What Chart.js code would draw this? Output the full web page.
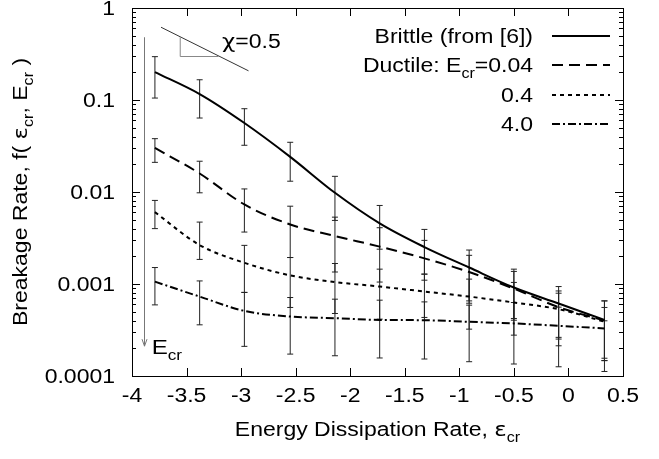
<!DOCTYPE html>
<html>
<head>
<meta charset="utf-8">
<script src="https://cdn.jsdelivr.net/npm/chart.js@4.4.0/dist/chart.umd.min.js"></script>
<style>
  html, body { margin: 0; padding: 0; background: #fff; }
  canvas { display: block; }
</style>
</head>
<body>
<canvas id="chart" width="659" height="459"></canvas>
<script>
const FONT = '"Liberation Sans", Arial, Helvetica, sans-serif';
const GREEK = '"DejaVu Sans", sans-serif';
const STRETCH = 1.15; // the original lettering is a bit wider than Helvetica

// sampled energy dissipation rates
const epsCr = [-3.79, -3.38, -2.97, -2.55, -2.14, -1.73, -1.32, -0.91, -0.50, -0.09, 0.33];

// brittle (from [6])
const brittle   = [0.201, 0.116, 0.0562, 0.0241, 0.0098, 0.00456, 0.00252, 0.00151, 0.000915, 0.000614, 0.000407];
const brittleHi = [0.296, 0.166, 0.0804, 0.0347, 0.0148, 0.00714, 0.00392, 0.00234, 0.00145, 0.000938, 0.000655];
const brittleLo = [0.105, 0.0637, 0.0322, 0.0131, 0.00491, 0.00239, 0.00128, 0.000655, 0.000422, 0.000263, 0.000156];

// ductile, E_cr = 0.04
const ductile004   = [0.0301, 0.0159, 0.00732, 0.00444, 0.00332, 0.00255, 0.0019, 0.00135, 0.00089, 0.00056, 0.0004];
const ductile004Hi = [0.038, 0.0216, 0.0108, 0.00701, 0.00533, 0.00409, 0.00298, 0.00205, 0.00137, 0.00084, 0.000655];
const ductile004Lo = [0.021, 0.0098, 0.00367, 0.00194, 0.00135, 0.00105, 0.0011, 0.000618, 0.000404, 0.000252, 0.000147];

// ductile, E_cr = 0.4
const ductile04   = [0.00604, 0.00265, 0.0017, 0.00124, 0.00105, 0.000938, 0.000828, 0.00073, 0.000629, 0.000532, 0.00039];
const ductile04Hi = [0.0081, 0.00471, 0.00263, 0.00194, 0.00167, 0.00145, 0.00128, 0.00113, 0.00104, 0.000794, 0.000556];
const ductile04Lo = [0.004, 0.00185, 0.00081, 0.000556, 0.000478, 0.000415, 0.000433, 0.000323, 0.000278, 0.000213, 0.000147];

// ductile, E_cr = 4.0
const ductile40   = [0.00106, 0.00073, 0.00051, 0.000443, 0.000425, 0.000407, 0.000404, 0.000388, 0.000373, 0.000351, 0.000329];
const ductile40Hi = [0.00151, 0.00108, 0.00081, 0.000713, 0.000684, 0.000667, 0.000639, 0.000589, 0.000629, 0.00056, 0.000398];
const ductile40Lo = [0.000593, 0.00036, 0.00021, 0.000173, 0.000166, 0.000157, 0.000153, 0.000143, 0.000135, 0.000126, 0.000112];

const xTicks = [-4, -3.5, -3, -2.5, -2, -1.5, -1, -0.5, 0, 0.5];
const xTickLabels = ['-4', '-3.5', '-3', '-2.5', '-2', '-1.5', '-1', '-0.5', '0', '0.5'];
const yTicks = [0.0001, 0.001, 0.01, 0.1, 1];
const yTickLabels = ['0.0001', '0.001', '0.01', '0.1', '1'];

// legend rows: text pieces (sub = subscript)
const legendRows = [
    [{t: 'Brittle (from [6])'}],
    [{t: 'Ductile: E'}, {t: 'cr', sub: true}, {t: '=0.04'}],
    [{t: '0.4'}],
    [{t: '4.0'}]
];

const series = [
    {v: brittle,    hi: brittleHi,    lo: brittleLo,    dash: []},
    {v: ductile004, hi: ductile004Hi, lo: ductile004Lo, dash: [11, 6]},
    {v: ductile04,  hi: ductile04Hi,  lo: ductile04Lo,  dash: [4, 4]},
    {v: ductile40,  hi: ductile40Hi,  lo: ductile40Lo,  dash: [8, 3, 2, 3]}
];

function partFont(p, size) {
    return (p.sub ? Math.round(size * 0.72) : size) + 'px ' + (p.greek ? GREEK : FONT);
}

// draw a string that may contain subscripts, slightly widened
function drawRich(ctx, parts, x, y, size, align) {
    const widths = parts.map(p => {
        ctx.font = partFont(p, size);
        return ctx.measureText(p.t).width;
    });
    const total = widths.reduce((a, b) => a + b, 0) * STRETCH;
    const x0 = align === 'right' ? x - total : align === 'center' ? x - total / 2 : x;
    ctx.save();
    ctx.translate(x0, y);
    ctx.scale(STRETCH, 1);
    ctx.textAlign = 'left';
    ctx.textBaseline = 'alphabetic';
    let cx = 0;
    parts.forEach((p, i) => {
        ctx.font = partFont(p, size);
        ctx.fillText(p.t, cx, p.sub ? size * 0.28 : 0);
        cx += widths[i];
    });
    ctx.restore();
}

const errorBars = {
    id: 'errorBars',
    beforeDatasetsDraw(chart) {
        const {ctx, scales: {x, y}} = chart;
        ctx.save();
        ctx.lineWidth = 1;
        ctx.strokeStyle = '#222';
        series.forEach(s => {
            s.hi.forEach((hi, i) => {
                const px = x.getPixelForValue(epsCr[i]);
                const top = y.getPixelForValue(hi);
                const bot = y.getPixelForValue(s.lo[i]);
                ctx.beginPath();
                ctx.moveTo(px, top); ctx.lineTo(px, bot);
                ctx.moveTo(px - 3, top); ctx.lineTo(px + 3, top);
                ctx.moveTo(px - 3, bot); ctx.lineTo(px + 3, bot);
                ctx.stroke();
            });
        });
        ctx.restore();
    }
};

const frameAndExtras = {
    id: 'frameAndExtras',
    afterDraw(chart) {
        const {ctx, chartArea: a, scales: {x, y}} = chart;
        ctx.save();

        // frame
        ctx.strokeStyle = '#000';
        ctx.lineWidth = 1;
        ctx.strokeRect(Math.round(a.left) + 0.5, Math.round(a.top) + 0.5,
            Math.round(a.right - a.left), Math.round(a.bottom - a.top));

        // inward ticks, gnuplot style
        ctx.beginPath();
        xTicks.forEach(v => {
            const px = Math.round(x.getPixelForValue(v)) + 0.5;
            ctx.moveTo(px, a.bottom); ctx.lineTo(px, a.bottom - 8);
            ctx.moveTo(px, a.top); ctx.lineTo(px, a.top + 8);
        });
        for (let d = -4; d <= 0; d++) {
            for (let m = 1; m <= 9; m++) {
                const val = m * Math.pow(10, d);
                if (val > 1) break;
                const py = Math.round(y.getPixelForValue(val)) + 0.5;
                const len = m === 1 ? 8 : 4;
                ctx.moveTo(a.left, py); ctx.lineTo(a.left + len, py);
                ctx.moveTo(a.right, py); ctx.lineTo(a.right - len, py);
            }
        }
        ctx.stroke();

        ctx.fillStyle = '#000';

        // tick labels
        xTicks.forEach((v, i) => {
            drawRich(ctx, [{t: xTickLabels[i]}], x.getPixelForValue(v), 402, 20, 'center');
        });
        yTicks.forEach((v, i) => {
            drawRich(ctx, [{t: yTickLabels[i]}], a.left - 17, y.getPixelForValue(v) + 7, 20, 'right');
        });

        // axis titles
        drawRich(ctx, [{t: 'Energy Dissipation Rate, '}, {t: '\u03b5', greek: true}, {t: 'cr', sub: true}],
            (a.left + a.right) / 2, 436, 20, 'center');
        ctx.save();
        ctx.translate(27, (a.top + a.bottom) / 2);
        ctx.rotate(-Math.PI / 2);
        drawRich(ctx, [{t: 'Breakage Rate, f( '}, {t: '\u03b5', greek: true}, {t: 'cr', sub: true}, {t: ', E'},
            {t: 'cr', sub: true}, {t: ' )'}], 0, 0, 20, 'center');
        ctx.restore();

        // legend
        const rowY = [36, 65, 95, 124];
        legendRows.forEach((parts, i) => {
            drawRich(ctx, parts, 533, rowY[i] + 7, 20, 'right');
            ctx.beginPath();
            ctx.setLineDash(series[i].dash);
            ctx.lineWidth = 2;
            ctx.moveTo(552, rowY[i]);
            ctx.lineTo(610, rowY[i]);
            ctx.stroke();
        });
        ctx.setLineDash([]);

        // slope indicator
        ctx.lineWidth = 1;
        ctx.strokeStyle = '#333';
        ctx.beginPath();
        ctx.moveTo(x.getPixelForValue(-3.734), y.getPixelForValue(0.618));
        ctx.lineTo(x.getPixelForValue(-2.932), y.getPixelForValue(0.2075));
        ctx.stroke();
        ctx.strokeStyle = '#888';
        ctx.beginPath();
        ctx.moveTo(x.getPixelForValue(-3.558), y.getPixelForValue(0.481));
        ctx.lineTo(x.getPixelForValue(-3.558), y.getPixelForValue(0.297));
        ctx.lineTo(x.getPixelForValue(-3.207), y.getPixelForValue(0.297));
        ctx.stroke();
        drawRich(ctx, [{t: '\u03c7', greek: true}, {t: '=0.5'}],
            x.getPixelForValue(-3.175), y.getPixelForValue(0.44) + 7, 20, 'left');

        // E_cr arrow
        const ax = Math.round(x.getPixelForValue(-3.887)) + 0.5;
        const ay = y.getPixelForValue(0.000211);
        ctx.strokeStyle = '#777';
        ctx.beginPath();
        ctx.moveTo(ax, y.getPixelForValue(0.481));
        ctx.lineTo(ax, ay);
        ctx.moveTo(ax - 2.5, ay - 7);
        ctx.lineTo(ax, ay);
        ctx.lineTo(ax + 2.5, ay - 7);
        ctx.stroke();
        drawRich(ctx, [{t: 'E'}, {t: 'cr', sub: true}], x.getPixelForValue(-3.82), ay + 8, 21, 'left');

        ctx.restore();
    }
};

new Chart(document.getElementById('chart').getContext('2d'), {
    type: 'line',
    data: {
        datasets: series.map(s => ({
            data: s.v.map((v, i) => ({x: epsCr[i], y: v})),
            borderColor: '#000',
            borderWidth: 2,
            borderDash: s.dash,
            pointRadius: 0,
            fill: false,
            cubicInterpolationMode: 'monotone'
        }))
    },
    options: {
        responsive: false,
        animation: false,
        devicePixelRatio: 1,
        layout: {padding: {top: 8, right: 36, left: 0, bottom: 0}},
        plugins: {legend: {display: false}, tooltip: {enabled: false}},
        scales: {
            x: {
                type: 'linear',
                min: -4,
                max: 0.5,
                grid: {display: false, drawTicks: false},
                border: {display: false},
                afterBuildTicks: scale => { scale.ticks = xTicks.map(v => ({value: v})); },
                afterFit: scale => { scale.height = 83; },
                ticks: {display: false}
            },
            y: {
                type: 'logarithmic',
                min: 0.0001,
                max: 1,
                grid: {display: false, drawTicks: false},
                border: {display: false},
                afterBuildTicks: scale => { scale.ticks = yTicks.map(v => ({value: v})); },
                afterFit: scale => { scale.width = 132; },
                ticks: {display: false}
            }
        }
    },
    plugins: [errorBars, frameAndExtras]
});
</script>
</body>
</html>
